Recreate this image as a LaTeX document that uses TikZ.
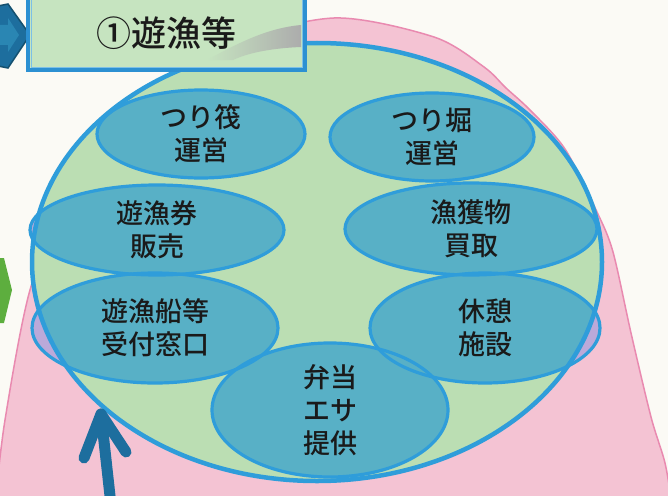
\documentclass[tikz,border=0pt]{standalone}
\usepackage{fontspec}
\newfontfamily\jpfont{Noto Sans CJK JP Medium}
\usetikzlibrary{shapes.geometric}
\definecolor{paper}{HTML}{FBFAF5}
\definecolor{pinkfill}{HTML}{F4C3D3}
\definecolor{pinkline}{HTML}{E98AB0}
\definecolor{circgreen}{HTML}{BBDEB3}
\definecolor{ringblue}{HTML}{2F9DDA}
\definecolor{ellfill}{HTML}{58B0C6}
\definecolor{ellout}{HTML}{BBA9D9}
\definecolor{boxfill}{HTML}{C6E4C0}
\definecolor{boxline}{HTML}{2C90D2}
\definecolor{boxinner}{HTML}{7CC0E6}
\definecolor{darkarrow}{HTML}{1D6E9E}
\definecolor{darkedge}{HTML}{15506F}
\definecolor{midarrow}{HTML}{2A86B3}
\definecolor{leafgreen}{HTML}{5DAE3E}
\definecolor{ink}{HTML}{1A1A1A}
\tikzset{
  item/.style={ellipse, draw=ringblue, line width=3.2pt, inner sep=0pt, outer sep=0pt,
    text=ink, align=center, font=\jpfont\fontsize{27}{33}\selectfont},
  titlebox/.style={rectangle, draw=boxline, line width=4pt, fill=boxfill, inner sep=0pt,
    minimum width=277pt, minimum height=78pt},
  bigarrow/.style={darkarrow, line width=11pt, line cap=round, line join=round},
}
\begin{document}
\begin{tikzpicture}[x=1pt,y=-1pt]
\useasboundingbox (0,0) rectangle (668,495);
\clip (0,0) rectangle (668,495);
\fill[paper] (0,0) rectangle (668,495);
% pink dome
\filldraw[fill=pinkfill, draw=pinkline, line width=1.5pt]
  plot[smooth, tension=0.5] coordinates {(-5,505) (5,420) (30,290) (70,190) (140,110) (230,45) (334,18) (434,37) (484,67) (506,88) (530,110) (565,149) (597,212) (613,252) (631,333) (651,417) (665,463) (672,505)} -- cycle;
% left markers
\filldraw[fill=darkarrow, draw=darkedge, line width=1.5pt] (-2,6) -- (8,4) -- (30,35) -- (8,68) -- (-2,66) -- cycle;
\fill[midarrow] (-2,25) -- (8,25) -- (8,18) -- (19,35) -- (8,52) -- (8,45) -- (-2,45) -- cycle;
\fill[leafgreen] (-2,258) -- (4,258) -- (12,290) -- (4,323) -- (-2,323) -- cycle;
% ellipse fills outside the circle
\foreach \cx/\cy/\rx/\ry in {201/134/104/44, 432/137/102/44, 157/230/127/45, 471/229/126/46, 155/328/123/55, 485/328/115/55, 330/410/118/67}
  \fill[ellout] (\cx,\cy) ellipse [x radius=\rx, y radius=\ry];
% big circle
\fill[circgreen] (317,262) ellipse [x radius=285, y radius=219];
\begin{scope}
  \clip (317,262) ellipse [x radius=285, y radius=219];
  \foreach \cx/\cy/\rx/\ry in {201/134/104/44, 432/137/102/44, 157/230/127/45, 471/229/126/46, 155/328/123/55, 485/328/115/55, 330/410/118/67}
    \fill[ellfill] (\cx,\cy) ellipse [x radius=\rx, y radius=\ry];
\end{scope}
\draw[ringblue, line width=4.5pt] (317,262) ellipse [x radius=285, y radius=219];
% activity ellipses
\node[item, minimum width=208pt, minimum height=88pt] (raft) at (201,134) {つり筏\\運営};
\node[item, minimum width=204pt, minimum height=88pt] (pond) at (432,137) {つり堀\\運営};
\node[item, minimum width=254pt, minimum height=90pt] (ticket) at (157,230) {遊漁券\\販売};
\node[item, minimum width=252pt, minimum height=92pt] (catch) at (471,229) {漁獲物\\買取};
\node[item, minimum width=246pt, minimum height=110pt] (boat) at (155,328) {遊漁船等\\受付窓口};
\node[item, minimum width=230pt, minimum height=110pt] (rest) at (485,328) {休憩\\施設};
\node[item, minimum width=236pt, minimum height=134pt] (bento) at (330,410) {弁当\\エサ\\提供};
% title box
\node[titlebox] (title) at (166.5,31) {};
\shade[left color=boxfill, right color=gray!65] (207,60) .. controls (240,42) and (268,28) .. (301,25) -- (301,47) .. controls (275,48) and (250,52) .. (233,60) -- cycle;
\draw[boxinner, line width=1pt] (31,-8) rectangle (302,67);
\node[text=ink, font=\jpfont\fontsize{35}{38}\selectfont] (titletext) at (166,33) {①遊漁等};
% bottom arrow
\coordinate (tail) at (111,505);
\coordinate (tip) at (101,414);
\coordinate (wingl) at (84,458);
\coordinate (wingr) at (126,452);
\draw[bigarrow] (tail) -- (tip);
\draw[bigarrow] (wingl) -- (tip) -- (wingr);
\end{tikzpicture}
\end{document}
